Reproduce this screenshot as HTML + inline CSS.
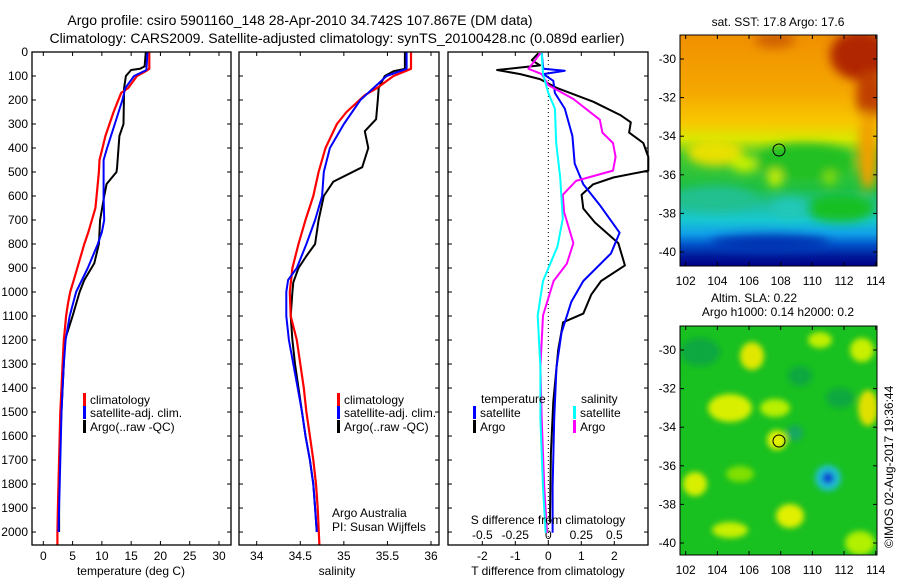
<!DOCTYPE html>
<html><head><meta charset="utf-8"><style>
body{margin:0;background:#fff;}
svg text{font-family:"Liberation Sans",sans-serif;fill:#000;}
</style></head><body>
<svg id="fig" width="900" height="580" viewBox="0 0 900 580" xmlns="http://www.w3.org/2000/svg">
<defs>
<linearGradient id="sstg" x1="0" y1="0" x2="0" y2="1">
<stop offset="0" stop-color="#f09000"/><stop offset="0.25" stop-color="#f5a800"/>
<stop offset="0.38" stop-color="#f8c800"/><stop offset="0.45" stop-color="#d8e800"/>
<stop offset="0.52" stop-color="#40c830"/><stop offset="0.66" stop-color="#20c040"/>
<stop offset="0.74" stop-color="#20c0a0"/><stop offset="0.80" stop-color="#18c8d0"/>
<stop offset="0.86" stop-color="#10a0e8"/><stop offset="0.91" stop-color="#0050c8"/>
<stop offset="0.96" stop-color="#001898"/><stop offset="1" stop-color="#000088"/>
</linearGradient>
<filter id="blur4"><feGaussianBlur stdDeviation="5"/></filter>
<filter id="blur2"><feGaussianBlur stdDeviation="3"/></filter>
<clipPath id="clipTop"><rect x="680" y="35" width="197" height="231"/></clipPath>
<clipPath id="clipBot"><rect x="680" y="326" width="197" height="229"/></clipPath>
</defs>

<text x="300" y="25" text-anchor="middle" font-size="14">Argo profile: csiro 5901160_148 28-Apr-2010 34.742S 107.867E (DM data)</text>
<text x="337" y="43" text-anchor="middle" font-size="14">Climatology: CARS2009. Satellite-adjusted climatology: synTS_20100428.nc (0.089d earlier)</text>

<!-- SST map -->
<g clip-path="url(#clipTop)">
<rect x="680" y="35" width="197" height="231" fill="url(#sstg)"/>
<g filter="url(#blur4)">
<ellipse cx="860" cy="55" rx="30" ry="25" fill="#b02800"/>
<ellipse cx="870" cy="95" rx="14" ry="25" fill="#c04000"/>
<ellipse cx="775" cy="40" rx="20" ry="8" fill="#d06000"/>
<ellipse cx="868" cy="150" rx="10" ry="40" fill="#f0a000"/>
<ellipse cx="715" cy="152" rx="28" ry="14" fill="#e8e000"/>
<ellipse cx="745" cy="164" rx="14" ry="8" fill="#c8f000"/>
<ellipse cx="805" cy="162" rx="50" ry="18" fill="#20c020"/>
<ellipse cx="775" cy="178" rx="7" ry="9" fill="#d0f000"/>
<ellipse cx="830" cy="178" rx="6" ry="7" fill="#90e000"/>
<ellipse cx="715" cy="198" rx="40" ry="12" fill="#20c090"/>
<ellipse cx="840" cy="208" rx="35" ry="14" fill="#18c020"/>
<ellipse cx="790" cy="208" rx="18" ry="10" fill="#20c8b8"/>
<ellipse cx="770" cy="243" rx="60" ry="8" fill="#0030b0"/>
</g>
<circle cx="779" cy="150" r="6" fill="none" stroke="#000" stroke-width="1"/>
</g>
<rect x="680" y="35" width="197" height="231" fill="none" stroke="#000"/>
<text x="778" y="26" text-anchor="middle" font-size="12">sat. SST: 17.8 Argo: 17.6</text>

<!-- SLA map -->
<g clip-path="url(#clipBot)">
<rect x="680" y="326" width="197" height="229" fill="#18c020"/>
<g filter="url(#blur2)">
<ellipse cx="700" cy="352" rx="20" ry="14" fill="#10a840"/>
<ellipse cx="752" cy="356" rx="12" ry="14" fill="#e0e800"/>
<ellipse cx="820" cy="340" rx="12" ry="8" fill="#c0f000"/>
<ellipse cx="862" cy="350" rx="12" ry="12" fill="#c8f000"/>
<ellipse cx="730" cy="408" rx="22" ry="14" fill="#d8f000"/>
<ellipse cx="775" cy="408" rx="15" ry="9" fill="#b8f000"/>
<ellipse cx="868" cy="408" rx="10" ry="18" fill="#e0e000"/>
<ellipse cx="777" cy="440" rx="10" ry="10" fill="#e0f000"/>
<ellipse cx="695" cy="484" rx="12" ry="12" fill="#d8f000"/>
<ellipse cx="740" cy="474" rx="14" ry="8" fill="#80e000"/>
<ellipse cx="790" cy="516" rx="14" ry="12" fill="#e0f000"/>
<ellipse cx="730" cy="530" rx="18" ry="8" fill="#c8f000"/>
<ellipse cx="860" cy="543" rx="15" ry="12" fill="#b0f000"/>
<ellipse cx="800" cy="376" rx="12" ry="10" fill="#10a840"/>
<ellipse cx="795" cy="433" rx="8" ry="8" fill="#18a860"/>
<ellipse cx="840" cy="398" rx="14" ry="10" fill="#10a840"/>
<ellipse cx="828" cy="478" rx="13" ry="13" fill="#20c0d0"/>
<ellipse cx="828" cy="478" rx="6" ry="6" fill="#1040d0"/>
</g>
<circle cx="779" cy="441" r="6" fill="none" stroke="#000"/>
</g>
<rect x="680" y="326" width="197" height="229" fill="none" stroke="#000"/>
<text x="754" y="302" text-anchor="middle" font-size="12">Altim. SLA: 0.22</text>
<text x="778" y="316" text-anchor="middle" font-size="12">Argo h1000: 0.14 h2000: 0.2</text>
<text transform="translate(893,548) rotate(-90)" font-size="12">©IMOS 02-Aug-2017 19:36:44</text>

<text x="332" y="517" font-size="12">Argo Australia</text>
<text x="332" y="531" font-size="12">PI: Susan Wijffels</text>
</svg>
<script>
// ---- data ----
const tClimDepth = [0,70,80,100,150,170,250,300,350,400,450,500,600,650,700,750,800,850,900,950,1000,1050,1100,1150,1200,1300,1400,1500,1600,1700,1800,1900,2000,2055];
const tClim      = [18.1,18.1,17.5,16,14.5,13.3,12,11.3,10.6,10.1,9.6,9.5,9.1,8.9,8.3,7.7,7,6.4,5.8,5.2,4.6,4.2,3.9,3.7,3.5,3.3,3.1,2.9,2.8,2.7,2.6,2.5,2.4,2.4];
const tSatDepth  = [0,75,100,150,200,300,400,450,500,600,700,750,800,900,1000,1100,1200,1300,1400,1500,1600,1700,1800,1900,2000];
const tSat       = [17.8,17.6,15.5,14,13.5,12.2,10.9,10.3,10.3,10.3,10.4,10,9.3,7.6,5.6,4.5,3.8,3.5,3.3,3.1,3,2.9,2.8,2.7,2.6];
const tArgoDepth = [0,60,70,75,100,150,300,350,480,500,550,600,700,800,880,950,1000,1100,1200,1400,1600,1800,1900,2000];
const tArgo      = [17.5,17.3,16.5,15,14.1,13.8,13.7,13,12.6,12.5,10.8,10.4,9.7,9.5,8.7,7,6.2,5,3.7,3.3,2.9,2.6,2.7,2.7];

const sClimDepth = [0,70,100,150,180,250,300,400,500,600,700,800,900,1000,1100,1200,1300,1400,1500,1600,1700,1800,1900,2055];
const sClim      = [35.77,35.77,35.57,35.38,35.24,35.03,34.92,34.79,34.71,34.65,34.56,34.48,34.41,34.38,34.39,34.46,34.5,34.54,34.57,34.61,34.65,34.68,34.7,34.72];
const sSatDepth  = [0,70,100,150,200,300,400,500,600,700,800,900,950,1000,1100,1200,1300,1400,1500,1600,1700,1800,1900,2000];
const sSat       = [35.72,35.72,35.49,35.34,35.19,35.0,34.84,34.77,34.75,34.67,34.57,34.46,34.36,34.34,34.34,34.37,34.42,34.47,34.52,34.56,34.61,34.65,34.67,34.69];
const sArgoDepth = [0,70,80,100,150,200,280,330,400,480,540,600,700,800,850,900,960,1000,1100,1200,1300,1400,1500,1600,1700,1800,1900,2000];
const sArgo      = [35.7,35.7,35.57,35.47,35.4,35.39,35.37,35.24,35.28,35.21,34.88,34.77,34.71,34.67,34.57,34.48,34.42,34.41,34.39,34.41,34.44,34.48,34.52,34.56,34.61,34.65,34.67,34.69];

const dTSatDepth  = [5,70,78,92,120,171,236,350,465,551,638,753,839,954,1040,1170,1313,1529,1816,2003];
const dTSat       = [-0.2,-0.15,0.5,-0.15,0.15,0.2,0.5,0.73,0.8,1.06,1.56,2.16,1.9,1.06,0.7,0.4,0.25,0.18,0.13,0.13];
const dTArgoDepth = [5,34,56,75,92,113,149,207,264,293,336,379,437,494,523,551,595,652,710,796,889,954,1011,1090,1126,1241,1457,1672,1960];
const dTArgo      = [-0.3,-0.5,-0.25,-1.55,-0.85,-0.25,0.25,1.36,2.2,2.5,2.45,2.88,3.03,3.03,1.97,1.36,1.01,1.06,1.41,2.12,2.32,1.6,1.3,1.06,0.45,0.3,0.15,0.08,0.05];
const dSSatDepth  = [5,92,171,236,379,523,695,810,954,1098,1313,1529,1816,2003];
const dSSat       = [-0.05,-0.04,0,0.05,0.06,0.09,0.11,0.07,-0.04,-0.08,-0.06,-0.06,-0.04,-0.02];
const dSArgoDepth = [5,70,92,138,196,282,336,379,437,494,537,595,667,796,882,954,1098,1313,1529,1816,2003];
const dSArgo      = [-0.06,-0.15,-0.05,0,0.19,0.39,0.41,0.49,0.51,0.49,0.21,0.11,0.12,0.19,0.14,0.04,-0.04,-0.06,-0.05,-0.03,-0.01];

const depthTicks = [0,100,200,300,400,500,600,700,800,900,1000,1100,1200,1300,1400,1500,1600,1700,1800,1900,2000];
const tTicks = [0,5,10,15,20,25,30];
const sTicks = [34,34.5,35,35.5,36];
const sTickLabels = ["34","34.5","35","35.5","36"];
const dTTicks = [-2,-1,0,1,2];
const dSTicks = [-0.5,-0.25,0,0.25,0.5];
const dSTickLabels = ["-0.5","-0.25","0","0.25","0.5"];
const lonTicks = [102,104,106,108,110,112,114];
const latTicks = [-30,-32,-34,-36,-38,-40];

// ---- helpers ----
const NS = "http://www.w3.org/2000/svg";
const svg = document.getElementById('fig');
function mk(tag, attrs, parent){ const e=document.createElementNS(NS,tag); for(const k in attrs) e.setAttribute(k,attrs[k]); (parent||svg).appendChild(e); return e; }
const TOP=52, BOT=545, D0=0, D1=2054;
const yD = d => TOP + (d-D0)/(D1-D0)*(BOT-TOP);
function lin(v0,v1,p0,p1){ return v => p0 + (v-v0)/(v1-v0)*(p1-p0); }
const xT  = lin(0,30,43.3,219);
const xS  = lin(34,36,256.7,431);
const xdT = lin(0,2,548.3,614.3);
const xdS = v => xdT(v*4);

function panel(name,x0,x1){
  const r = mk('rect',{x:x0,y:TOP,width:x1-x0,height:BOT-TOP,fill:'none',stroke:'#000','stroke-width':1.3});
  
  
}
function xTicks(name,vals,labels,fx,ylab){
  vals.forEach((v,i)=>{
    const x=fx(v);
    mk('line',{x1:x,x2:x,y1:BOT,y2:BOT-4,stroke:'#000'});
    mk('line',{x1:x,x2:x,y1:TOP,y2:TOP+4,stroke:'#000'});
    const t=mk('text',{x:x,y:ylab,'text-anchor':'middle','font-size':12});
    t.textContent=labels[i];
    
    
  });
}
function yTicks(x0,x1,labels){
  depthTicks.forEach(d=>{
    const y=yD(d);
    mk('line',{x1:x0,x2:x0+4,y1:y,y2:y,stroke:'#000'});
    mk('line',{x1:x1,x2:x1-4,y1:y,y2:y,stroke:'#000'});
    if(labels){
      const t=mk('text',{x:28,y:y+4,'text-anchor':'end','font-size':12});
      t.textContent=d;
      
      
    }
  });
}
function line(name,xs,ds,fx,color,w){
  const pts = xs.map((v,i)=>fx(v).toFixed(1)+','+yD(ds[i]).toFixed(1)).join(' ');
  const p=mk('polyline',{points:pts,fill:'none',stroke:color,'stroke-width':w||2,'stroke-linejoin':'round'});
  
  
}
function legendEntry(name,x,y,color,label){
  mk('rect',{x:x,y:y-10,width:3,height:13,fill:color});
  const t=mk('text',{x:x+7,y:y+1,'font-size':12}); t.textContent=label;
  
  
}
function label(name,x,y,txt){
  const t=mk('text',{x:x,y:y,'text-anchor':'middle','font-size':12}); t.textContent=txt;
  
  
}

// Panel 1 temperature
yTicks(32,231,true);
xTicks('temperature',tTicks,tTicks.map(String),xT,560);
line('temp-argo',tArgo,tArgoDepth,xT,'#000',2);
line('temp-climatology',tClim,tClimDepth,xT,'#f00',2.2);
line('temp-satellite',tSat,tSatDepth,xT,'#00f',2);
panel('temperature-panel',32,231);
label('temperature-x-title',131,575,'temperature (deg C)');
legendEntry('legend-climatology',83,403,'#f00','climatology');
legendEntry('legend-satellite',83,416,'#00f','satellite-adj. clim.');
legendEntry('legend-argo',83,430,'#000','Argo(..raw -QC)');

// Panel 2 salinity
yTicks(239,439,false);
xTicks('salinity',sTicks,sTickLabels,xS,560);
line('sal-argo',sArgo,sArgoDepth,xS,'#000',2);
line('sal-climatology',sClim,sClimDepth,xS,'#f00',2.2);
line('sal-satellite',sSat,sSatDepth,xS,'#00f',2);
panel('salinity-panel',239,439);
label('salinity-x-title',337,575,'salinity');
legendEntry('legend-climatology-2',337,403,'#f00','climatology');
legendEntry('legend-satellite-2',337,416,'#00f','satellite-adj. clim.');
legendEntry('legend-argo-2',337,430,'#000','Argo(..raw -QC)');

// Panel 3 differences
yTicks(448,648,false);
xTicks('t-difference',dTTicks,dTTicks.map(String),xdT,560);
mk('line',{x1:xdT(0),x2:xdT(0),y1:TOP,y2:BOT,stroke:'#000','stroke-dasharray':'1,3'});
dSTicks.forEach((v,i)=>{
  const t=mk('text',{x:xdS(v),y:539,'text-anchor':'middle','font-size':12}); t.textContent=dSTickLabels[i];
  
  
});
line('dT-argo',dTArgo,dTArgoDepth,xdT,'#000',2);
line('dT-satellite',dTSat,dTSatDepth,xdT,'#00f',2);
line('dS-argo',dSArgo,dSArgoDepth,xdS,'#f0f',2);
line('dS-satellite',dSSat,dSSatDepth,xdS,'#0ff',2);
panel('difference-panel',448,648);
label('t-difference-x-title',548,575,'T difference from climatology');
label('s-difference-title',548,524,'S difference from climatology');
const lt=mk('text',{x:481,y:403,'font-size':12}); lt.textContent='temperature';


const ls=mk('text',{x:581,y:403,'font-size':12}); ls.textContent='salinity';


legendEntry('legend-t-satellite',473,416,'#00f','satellite');
legendEntry('legend-t-argo',473,430,'#000','Argo');
legendEntry('legend-s-satellite',573,416,'#0ff','satellite');
legendEntry('legend-s-argo',573,430,'#f0f','Argo');

// Map axes
function mapAxes(name,y0,y1,latY){
  const xL = lin(102,114,685.7,875.7);
  lonTicks.forEach(v=>{
    const x=xL(v);
    mk('line',{x1:x,x2:x,y1:y1,y2:y1-4,stroke:'#000'});
    mk('line',{x1:x,x2:x,y1:y0,y2:y0+4,stroke:'#000'});
    const t=mk('text',{x:x,y:y1+19,'text-anchor':'middle','font-size':12}); t.textContent=v;
    
    
  });
  latTicks.forEach(v=>{
    const y=latY(v);
    mk('line',{x1:680,x2:684,y1:y,y2:y,stroke:'#000'});
    mk('line',{x1:877,x2:873,y1:y,y2:y,stroke:'#000'});
    const t=mk('text',{x:676,y:y+4,'text-anchor':'end','font-size':12}); t.textContent=v;
    
    
  });
}
mapAxes('sst-map',35,266,lin(-30,-40,59,252));
mapAxes('sla-map',326,555,lin(-30,-40,350,543));
</script>
</body></html>
